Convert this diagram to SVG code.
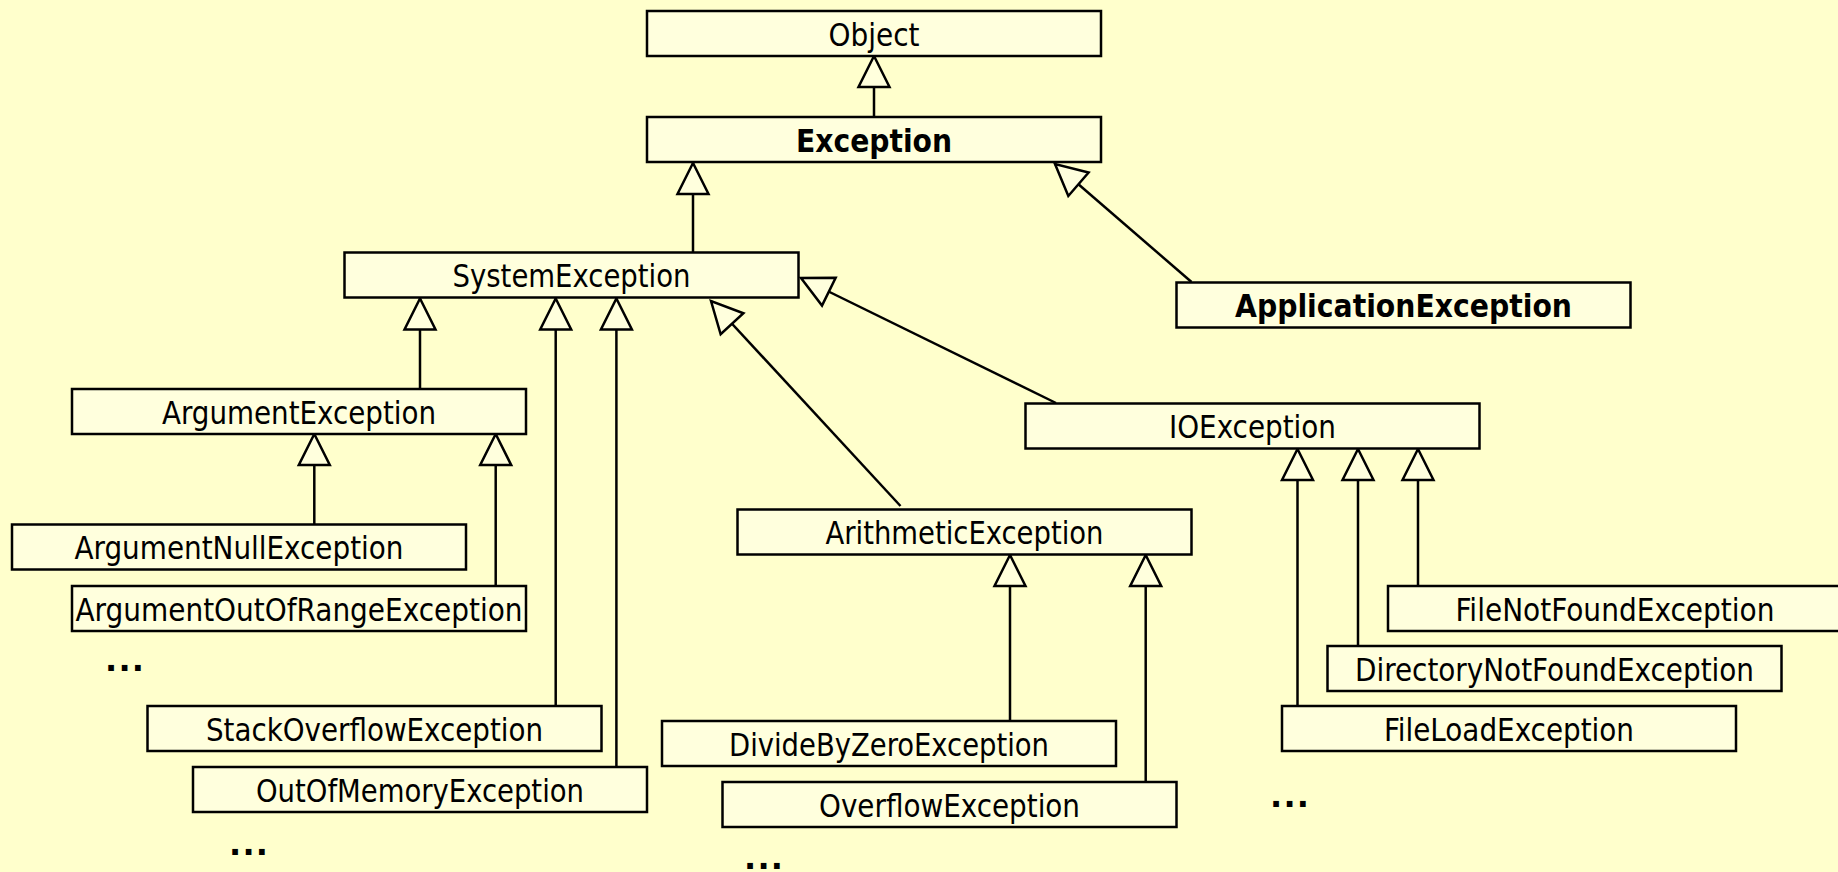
<svg xmlns="http://www.w3.org/2000/svg" width="1838" height="872" viewBox="0 0 1838 872">
  <style>
    .box { fill: #FFFFDD; stroke: #000; stroke-width: 2.5; }
    .lbl { font-family: "DejaVu Sans Condensed", "DejaVu Sans", sans-serif; font-size: 32px; fill: #000; text-anchor: middle; }
    .bold { font-weight: bold; }
    .dots { font-family: "DejaVu Sans", sans-serif; font-size: 32px; font-weight: bold; fill: #000; }
    .edge { fill: none; stroke: #000; stroke-width: 2.5; marker-end: url(#inherit); }
  </style>
  <defs>
    <!-- hollow triangle: UML generalisation head, tip at the line end -->
    <marker id="inherit" markerUnits="userSpaceOnUse" viewBox="-34 -18 36 36" refX="0" refY="0" markerWidth="36" markerHeight="36" orient="auto" overflow="visible">
      <path d="M0,0 L-31,-15.5 L-31,15.5 Z" fill="#FFFFDD" stroke="#000" stroke-width="2.5" stroke-linejoin="miter"/>
    </marker>
  </defs>

  <rect width="1838" height="872" fill="#FFFFCC"/>

  <!-- generalisation connectors, child to parent -->
  <g id="connectors">
    <path class="edge" d="M874,117 L874,56"/>
    <path class="edge" d="M693,252 L693,163"/>
    <path class="edge" d="M1191.5,282 L1055,164"/>
    <path class="edge" d="M420,389 L420,298.5"/>
    <path class="edge" d="M555.7,706 L555.7,298.5"/>
    <path class="edge" d="M616.4,767 L616.4,298.5"/>
    <path class="edge" d="M900.5,506 L711,301"/>
    <path class="edge" d="M1056,403 L801,278"/>
    <path class="edge" d="M314.3,524.5 L314.3,434"/>
    <path class="edge" d="M495.7,586 L495.7,434"/>
    <path class="edge" d="M1010,721 L1010,555"/>
    <path class="edge" d="M1145.7,782 L1145.7,555"/>
    <path class="edge" d="M1297.5,706 L1297.5,449"/>
    <path class="edge" d="M1358,646 L1358,449"/>
    <path class="edge" d="M1418,586 L1418,449"/>
  </g>

  <g id="Object">
    <rect class="box" x="647" y="11" width="454" height="45"/>
    <text class="lbl" x="874" y="45.5" textLength="91" lengthAdjust="spacingAndGlyphs">Object</text>
  </g>
  <g id="Exception">
    <rect class="box" x="647" y="117" width="454" height="45"/>
    <text class="lbl bold" x="874" y="151.5" textLength="156" lengthAdjust="spacingAndGlyphs">Exception</text>
  </g>
  <g id="SystemException">
    <rect class="box" x="344.5" y="252.5" width="454" height="45"/>
    <text class="lbl" x="571.5" y="287" textLength="238" lengthAdjust="spacingAndGlyphs">SystemException</text>
  </g>
  <g id="ApplicationException">
    <rect class="box" x="1176.5" y="282.5" width="454" height="45"/>
    <text class="lbl bold" x="1403.5" y="317" textLength="337" lengthAdjust="spacingAndGlyphs">ApplicationException</text>
  </g>
  <g id="ArgumentException">
    <rect class="box" x="72" y="389" width="454" height="45"/>
    <text class="lbl" x="299" y="423.5" textLength="274" lengthAdjust="spacingAndGlyphs">ArgumentException</text>
  </g>
  <g id="IOException">
    <rect class="box" x="1025.5" y="403.5" width="454" height="45"/>
    <text class="lbl" x="1252.5" y="438" textLength="167" lengthAdjust="spacingAndGlyphs">IOException</text>
  </g>
  <g id="ArithmeticException">
    <rect class="box" x="737.5" y="509.5" width="454" height="45"/>
    <text class="lbl" x="964.5" y="544" textLength="278" lengthAdjust="spacingAndGlyphs">ArithmeticException</text>
  </g>
  <g id="ArgumentNullException">
    <rect class="box" x="12" y="524.5" width="454" height="45"/>
    <text class="lbl" x="239" y="559" textLength="329" lengthAdjust="spacingAndGlyphs">ArgumentNullException</text>
  </g>
  <g id="ArgumentOutOfRangeException">
    <rect class="box" x="72" y="586" width="454" height="45"/>
    <text class="lbl" x="299" y="620.5" textLength="447" lengthAdjust="spacingAndGlyphs">ArgumentOutOfRangeException</text>
  </g>
  <g id="FileNotFoundException">
    <rect class="box" x="1388" y="586" width="454" height="45"/>
    <text class="lbl" x="1615" y="620.5" textLength="319" lengthAdjust="spacingAndGlyphs">FileNotFoundException</text>
  </g>
  <g id="DirectoryNotFoundException">
    <rect class="box" x="1327.5" y="646" width="454" height="45"/>
    <text class="lbl" x="1554.5" y="680.5" textLength="399" lengthAdjust="spacingAndGlyphs">DirectoryNotFoundException</text>
  </g>
  <g id="StackOverflowException">
    <rect class="box" x="147.5" y="706" width="454" height="45"/>
    <text class="lbl" x="374.5" y="740.5" textLength="337" lengthAdjust="spacingAndGlyphs">StackOverflowException</text>
  </g>
  <g id="DivideByZeroException">
    <rect class="box" x="662" y="721" width="454" height="45"/>
    <text class="lbl" x="889" y="755.5" textLength="320" lengthAdjust="spacingAndGlyphs">DivideByZeroException</text>
  </g>
  <g id="FileLoadException">
    <rect class="box" x="1282" y="706" width="454" height="45"/>
    <text class="lbl" x="1509" y="740.5" textLength="250" lengthAdjust="spacingAndGlyphs">FileLoadException</text>
  </g>
  <g id="OutOfMemoryException">
    <rect class="box" x="193" y="767" width="454" height="45"/>
    <text class="lbl" x="420" y="801.5" textLength="328" lengthAdjust="spacingAndGlyphs">OutOfMemoryException</text>
  </g>
  <g id="OverflowException">
    <rect class="box" x="722.5" y="782" width="454" height="45"/>
    <text class="lbl" x="949.5" y="816.5" textLength="261" lengthAdjust="spacingAndGlyphs">OverflowException</text>
  </g>

  <!-- elided subclasses -->
  <g id="more">
    <text class="dots" x="105" y="671" textLength="39" lengthAdjust="spacing">...</text>
    <text class="dots" x="229" y="855" textLength="39" lengthAdjust="spacing">...</text>
    <text class="dots" x="744" y="869" textLength="39" lengthAdjust="spacing">...</text>
    <text class="dots" x="1270" y="807" textLength="39" lengthAdjust="spacing">...</text>
  </g>
</svg>
